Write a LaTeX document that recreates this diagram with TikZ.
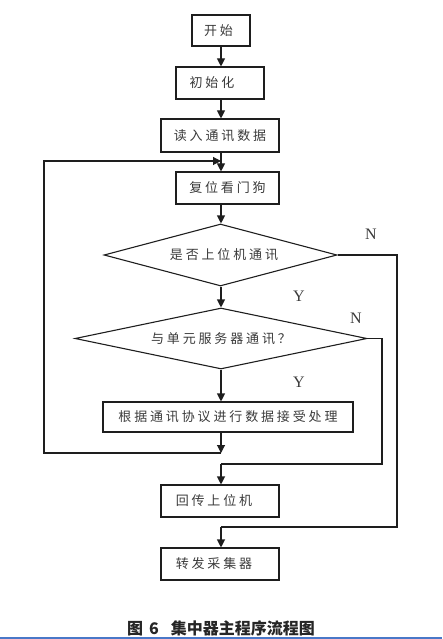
\documentclass[tikz,border=0pt]{standalone}
\usepackage{fontspec}
\newfontfamily\cjk[LetterSpace=22]{Noto Sans CJK SC}
\newfontfamily\cjkcap{Noto Sans CJK SC}
\setmainfont{Liberation Serif}
\usetikzlibrary{shapes.geometric,arrows.meta}
\definecolor{ln}{HTML}{1E1E1E}
\definecolor{tx}{HTML}{3A3A3A}
\definecolor{bl}{HTML}{4A78C8}
\tikzset{
  box/.style={draw=ln, line width=1.1pt, minimum height=32pt, inner sep=0pt, text=tx, font=\cjk\fontsize{13pt}{15pt}\selectfont},
  dia/.style={draw=ln, line width=1.1pt, shape=diamond, inner sep=0pt, aspect=3.7, text=tx, font=\cjk\fontsize{13pt}{15pt}\selectfont},
  arr/.style={draw=ln, line width=1.1pt, -{Triangle[length=8pt,width=8pt]}},
  ln/.style={draw=ln, line width=1.1pt},
  yn/.style={font=\fontsize{16pt}{18pt}\selectfont, text=tx, inner sep=0pt}
}
\begin{document}
\begin{tikzpicture}[x=1pt,y=1pt]
\useasboundingbox (0,0) rectangle (442,-639);
\node[box, minimum width=58pt, minimum height=31pt] (st) at (221,-30.5) {开始\hspace*{5pt}};
\node[box, minimum width=88pt] (in) at (220,-83) {初始化\hspace*{16pt}};
\node[box, minimum width=118pt, minimum height=33pt] (rd) at (220,-135.5) {读入通讯数据};
\node[box, minimum width=103pt] (rs) at (227.5,-188) {复位看门狗};
\node[dia, minimum width=233pt, minimum height=62pt] (d1) at (220.5,-255) {\hspace*{7pt}是否上位机通讯};
\node[dia, minimum width=292pt, minimum height=61pt] (d2) at (221,-338.5) {与单元服务器通讯？};
\node[box, minimum width=250pt, minimum height=30pt] (pr) at (228,-417) {根据通讯协议进行数据接受处理};
\node[box, minimum width=118pt] (hc) at (220,-501) {回传上位机\hspace*{12pt}};
\node[box, minimum width=118pt] (zf) at (220,-564) {转发采集器\hspace*{12pt}};

\node[yn] (n1) at (371,-234) {N};
\node[yn] (y1) at (299,-296) {Y};
\node[yn] (n2) at (356,-318) {N};
\node[yn] (y2) at (299,-382) {Y};

\coordinate (cx) at (221,0);
\coordinate (j1) at (221,-453);
\coordinate (l1) at (44,-453);
\coordinate (l2) at (44,-161);
\coordinate (j2) at (221,-161);
\coordinate (r1) at (397,-255);
\coordinate (r2) at (397,-527);
\coordinate (r3) at (221,-527);
\coordinate (s1) at (382,-338.5);
\coordinate (s2) at (382,-464);
\coordinate (s3) at (221,-464);

\draw[arr] (st.south -| cx) -- (in.north -| cx);
\draw[arr] (in.south -| cx) -- (rd.north -| cx);
\draw[arr] (rd.south -| cx) -- (rs.north -| cx);
\draw[arr] (rs.south -| cx) -- (d1.north -| cx);
\draw[arr] (d1.south -| cx) -- (d2.north -| cx);
\draw[arr] (d2.south -| cx) -- (pr.north -| cx);
\draw[arr] (pr.south -| cx) -- (j1);
\draw[arr] (j1) -- (l1) -- (l2) -- (j2);
\draw[ln] (d1.east) -- (r1) -- (r2) -- (r3);
\draw[arr] (r3) -- (zf.north -| cx);
\draw[ln] (d2.east) -- (s1) -- (s2) -- (s3);
\draw[arr] (s3) -- (hc.north -| cx);

\node[font=\cjkcap\bfseries\fontsize{16pt}{18pt}\selectfont, text=black!85, inner sep=0pt] (cap) at (221,-628) {图\hspace{6pt}6\hspace{12pt}集中器主程序流程图};
\draw[bl, line width=1.6pt] (0,-638) -- (442,-638);
\end{tikzpicture}
\end{document}
